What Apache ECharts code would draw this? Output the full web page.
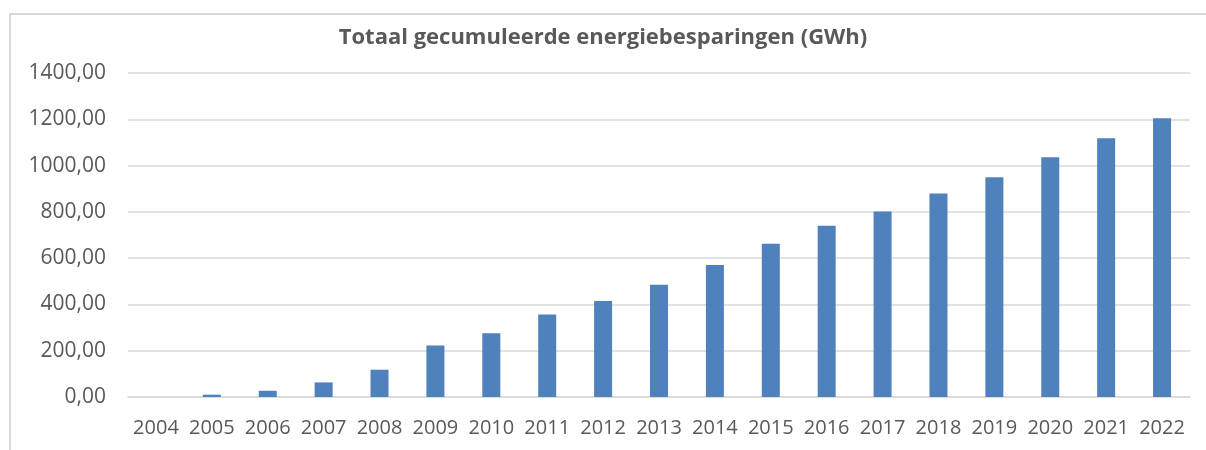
<!DOCTYPE html>
<html>
<head>
<meta charset="utf-8">
<script src="https://cdn.jsdelivr.net/npm/echarts@6/dist/echarts.min.js"></script>
<style>
    html, body { margin: 0; padding: 0; background: #fff; }
    #chart { width: 1206px; height: 450px; }
</style>
</head>
<body>
<div id="chart"></div>
<script>
var years = ["2004","2005","2006","2007","2008","2009","2010","2011","2012","2013",
    "2014","2015","2016","2017","2018","2019","2020","2021","2022"]
var savings = [0, 10, 27, 63, 118, 222, 275, 356, 415, 485,
    570, 662, 740, 802, 879, 949, 1036, 1118, 1204]
var yTicks = [0, 200, 400, 600, 800, 1000, 1200, 1400]

var chart = echarts.init(document.getElementById("chart"))

var option = {
    backgroundColor: "#fff",
    animation: false,
    textStyle: { fontFamily: "Open Sans" },
    title: {
        text: "Totaal gecumuleerde energiebesparingen (GWh)",
        left: "center",
        top: 22,
        textStyle: { fontFamily: "Open Sans", fontSize: 22, fontWeight: "bold", color: "#595959" }
    },
    graphic: [
        // chart frame (top and left edges visible)
        { type: "line", shape: { x1: 9, y1: 14, x2: 1206, y2: 14 }, style: { stroke: "#d9d9d9", lineWidth: 2 } },
        { type: "line", shape: { x1: 10, y1: 14, x2: 10, y2: 450 }, style: { stroke: "#d9d9d9", lineWidth: 2 } }
    ],
    grid: {
        left: 128,
        right: 16,
        top: 73,
        bottom: 53,
        outerBoundsMode: "none"
    },
    xAxis: {
        type: "category",
        data: years,
        axisLine: { lineStyle: { color: "#d9d9d9", width: 1.5 } },
        axisTick: { show: false },
        axisLabel: { color: "#595959", fontSize: 20, margin: 21, interval: 0, hideOverlap: false }
    },
    yAxis: {
        type: "value",
        min: yTicks[0],
        max: yTicks[yTicks.length - 1],
        interval: 200,
        axisLine: { show: false },
        axisTick: { show: false },
        splitLine: { lineStyle: { color: "#d9d9d9", width: 1.5 } },
        axisLabel: {
            color: "#595959",
            fontSize: 21,
            margin: 22,
            formatter: function (v) { return v.toFixed(2).replace(".", ",") }
        }
    },
    series: [
        {
            type: "bar",
            data: savings,
            barWidth: 18,
            itemStyle: { color: "#4f81bd" }
        }
    ]
}
chart.setOption(option)
</script>
</body>
</html>
